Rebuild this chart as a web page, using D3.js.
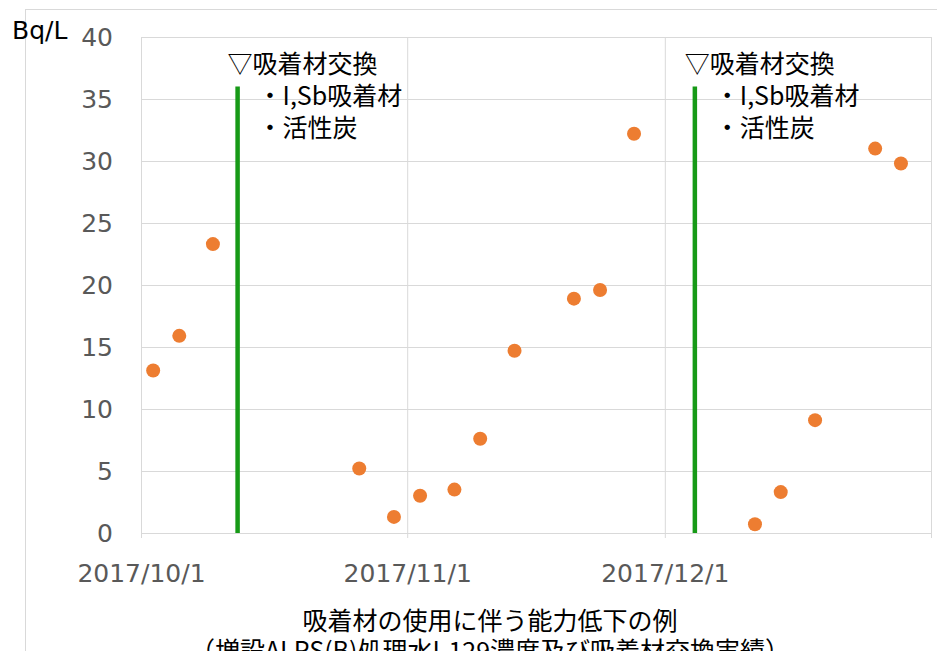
<!DOCTYPE html>
<html>
<head>
<meta charset="utf-8">
<script src="https://cdn.jsdelivr.net/npm/d3@7"></script>
<style>
  body { margin: 0; background: #fff; }
</style>
</head>
<body>
<svg id="chart"></svg>
<script>
// sampling dates and I-129 values (Bq/L)
const sampleDates = [
    "2017-10-02T10:00", "2017-10-05T11:00", "2017-10-09T09:00",
    "2017-10-26T10:00", "2017-10-30T11:00", "2017-11-02T12:00",
    "2017-11-06T12:00", "2017-11-09T12:00", "2017-11-13T12:00",
    "2017-11-20T10:00", "2017-11-23T11:00", "2017-11-27T10:00",
    "2017-12-11T12:00", "2017-12-14T12:00", "2017-12-18T12:00",
    "2017-12-25T12:00", "2017-12-28T12:00"
];
const i129Values = [13.1, 15.9, 23.3, 5.2, 1.3, 3.0, 3.5, 7.6, 14.7, 18.9, 19.6, 32.2, 0.7, 3.3, 9.1, 31.0, 29.8];

// adsorbent replacement dates
const replaceDates = ["2017-10-12T06:00", "2017-12-04T12:00"];
const replaceTop = 36;
const annotationLines = ["▽吸着材交換", "・I,Sb吸着材", "・活性炭"];

const yTicks = [0, 5, 10, 15, 20, 25, 30, 35, 40];
const xTickDates = ["2017-10-01T00:00", "2017-11-01T00:00", "2017-12-01T00:00", "2018-01-01T00:00"];
const xTickLabels = ["2017/10/1", "2017/11/1", "2017/12/1", ""];
const yUnit = "Bq/L";
const captionLines = ["吸着材の使用に伴う能力低下の例", "（増設ALPS(B)処理水I-129濃度及び吸着材交換実績）"];

const parse = d3.timeParse("%Y-%m-%dT%H:%M");
const points = sampleDates.map((d, i) => ({ date: parse(d), value: i129Values[i] }));

const width = 937, height = 651;
const plot = { left: 141, right: 931, top: 37, bottom: 533 };
const jpFont = "'Noto Sans CJK JP', sans-serif";
const numFont = "'DejaVu Sans', sans-serif";

const svg = d3.select('#chart')
    .attr('width', width)
    .attr('height', height)
    .style('background', '#fff');

// outer chart frame
svg.append('rect')
    .attr('x', 25.5)
    .attr('y', 9.5)
    .attr('width', width)
    .attr('height', height)
    .attr('fill', 'none')
    .attr('stroke', '#d9d9d9');

const x = d3.scaleTime()
    .domain([parse(xTickDates[0]), parse(xTickDates[3])])
    .range([plot.left, plot.right]);

const y = d3.scaleLinear()
    .domain([0, 40])
    .range([plot.bottom, plot.top]);

// y axis with horizontal gridlines
const yAxis = svg.append('g')
    .attr('transform', `translate(${plot.left},0)`)
    .call(d3.axisLeft(y)
        .tickValues(yTicks)
        .tickSize(-(plot.right - plot.left))
        .tickPadding(28));
yAxis.select('.domain').remove();
yAxis.selectAll('line').attr('stroke', '#d9d9d9');
yAxis.selectAll('text')
    .attr('fill', '#595959')
    .style('font-family', numFont)
    .style('font-size', '25px');

// x axis with vertical gridlines
const xAxis = svg.append('g')
    .attr('transform', `translate(0,${plot.bottom})`)
    .call(d3.axisBottom(x)
        .tickValues(xTickDates.map(parse))
        .tickFormat((d, i) => xTickLabels[i])
        .tickSize(5));
xAxis.select('.domain').remove();
xAxis.selectAll('line')
    .attr('y1', -(plot.bottom - plot.top))
    .attr('stroke', '#d9d9d9');
xAxis.selectAll('text')
    .attr('y', 49)
    .attr('dy', 0)
    .attr('fill', '#595959')
    .style('font-family', numFont)
    .style('font-size', '25px');

// unit label
svg.append('text')
    .attr('x', 12)
    .attr('y', 39)
    .attr('fill', '#000')
    .style('font-family', numFont)
    .style('font-size', '25px')
    .text(yUnit);

// replacement markers
replaceDates.forEach(d => {
    const lx = x(parse(d));
    svg.append('line')
        .attr('x1', lx)
        .attr('x2', lx)
        .attr('y1', y(0))
        .attr('y2', y(replaceTop))
        .attr('stroke', '#179a17')
        .attr('stroke-width', 4.5);

    const note = svg.append('text')
        .attr('fill', '#000')
        .style('font-family', jpFont)
        .style('font-size', '25px');
    note.selectAll('tspan')
        .data(annotationLines)
        .enter()
        .append('tspan')
        .attr('x', (t, i) => i === 0 ? lx - 10 : lx + 20)
        .attr('y', (t, i) => 73 + i * 32)
        .text(t => t);
});

// sample points
svg.selectAll('.dot')
    .data(points)
    .enter()
    .append('circle')
    .attr('class', 'dot')
    .attr('cx', d => x(d.date))
    .attr('cy', d => y(d.value))
    .attr('r', 7)
    .attr('fill', '#ed7d31');

// caption
svg.append('g')
    .selectAll('text')
    .data(captionLines)
    .enter()
    .append('text')
    .attr('x', 490)
    .attr('y', (t, i) => 630 + i * 30)
    .attr('text-anchor', 'middle')
    .attr('fill', '#000')
    .style('font-family', jpFont)
    .style('font-size', '25px')
    .text(t => t);
</script>
</body>
</html>
